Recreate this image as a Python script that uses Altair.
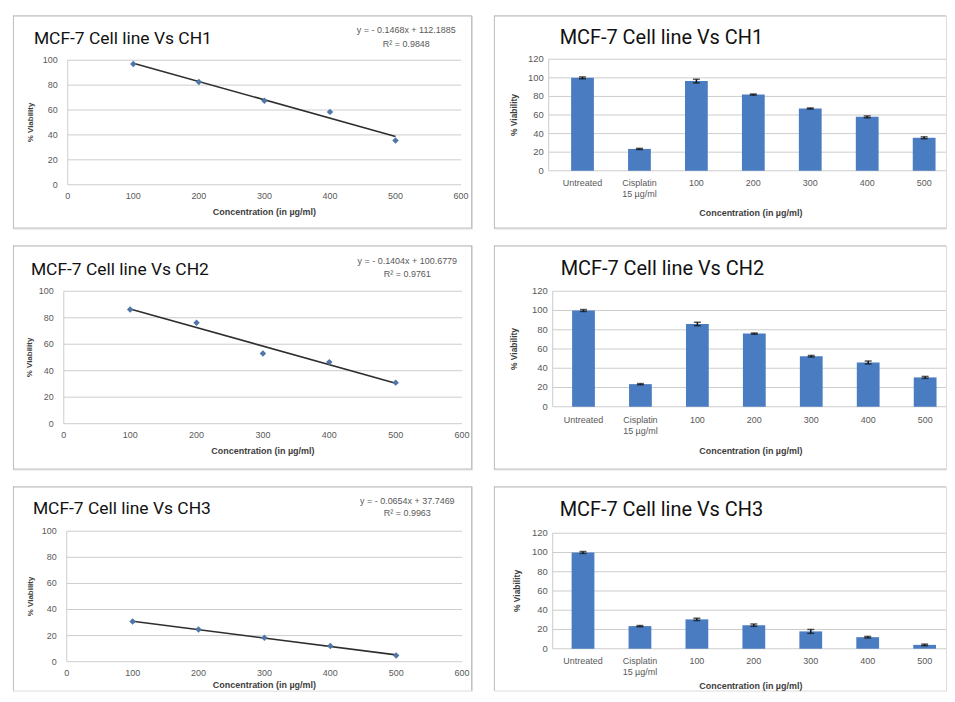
import altair as alt
import pandas as pd

# ---------------- data ----------------
conc = [100, 200, 300, 400, 500]
ch1_scatter = [97.0, 82.5, 67.5, 58.5, 35.5]
ch2_scatter = [86.2, 76.2, 53.0, 46.5, 31.0]
ch3_scatter = [30.8, 24.6, 18.4, 12.0, 4.8]

categories = ["Untreated", "Cisplatin 15 µg/ml", "100", "200", "300", "400", "500"]
category_labels = ["Untreated", "Cisplatin\n15 µg/ml", "100", "200", "300", "400", "500"]
ch1_bars = [100.0, 23.5, 96.5, 82.0, 67.0, 58.0, 35.5]
ch1_err = [1.0, 0.6, 2.0, 0.6, 0.6, 1.0, 1.0]
ch2_bars = [100.0, 23.5, 86.0, 76.0, 52.5, 46.0, 30.5]
ch2_err = [1.0, 0.6, 1.8, 0.6, 0.8, 1.5, 1.0]
ch3_bars = [100.0, 23.5, 30.5, 24.5, 18.0, 12.0, 4.0]
ch3_err = [1.0, 0.6, 1.2, 1.2, 2.0, 0.8, 0.8]

titles = ["MCF-7 Cell line Vs CH1", "MCF-7 Cell line Vs CH2", "MCF-7 Cell line Vs CH3"]
equations = ["y = - 0.1468x + 112.1885", "y = - 0.1404x + 100.6779", "y = - 0.0654x + 37.7469"]
r_squared = ["R² = 0.9848", "R² = 0.9761", "R² = 0.9963"]

scatter_x_ticks = [0, 100, 200, 300, 400, 500, 600]
scatter_y_ticks = [0, 20, 40, 60, 80, 100]
bar_y_ticks = [0, 20, 40, 60, 80, 100, 120]

x_title = "Concentration (in µg/ml)"
y_title = "% Viability"

# ---------------- style ----------------
FRAME = "#c0c0c0"
GRID = "#cdcdcd"
LABEL = "#595959"
AXTITLE = "#404040"
BAR = "#4a7cc1"
POINT = "#4f76a6"
LINE = "#2e2e2e"
FONT = "Liberation Sans"
TFONT = "Roboto"

ONE = alt.Data(values=[{"k": 1}])


def frame_layers(W, H, edges):
    rule = alt.Chart(ONE).mark_rule(color=FRAME, strokeWidth=1)
    out = []
    if "top" in edges:
        out.append(rule.encode(x=alt.value(0), x2=alt.value(W), y=alt.value(0.5)))
    if "bottom" in edges:
        out.append(rule.encode(x=alt.value(0), x2=alt.value(W), y=alt.value(H - 0.5)))
    if "left" in edges:
        out.append(rule.encode(x=alt.value(0.5), y=alt.value(0), y2=alt.value(H)))
    if "right" in edges:
        out.append(rule.encode(x=alt.value(W - 0.5), y=alt.value(0), y2=alt.value(H)))
    return out


def text_at(text, x, y, **kw):
    return alt.Chart(ONE).mark_text(text=text, **kw).encode(x=alt.value(x), y=alt.value(y))


def y_axis_layers(ticks, yscale, x0, x1, label_x, label_size):
    tdf = pd.DataFrame({"t": ticks})
    Y = alt.Y("t:Q", scale=yscale, axis=None)
    grid = alt.Chart(tdf).mark_rule(color=GRID, strokeWidth=1).encode(
        y=Y, x=alt.value(x0), x2=alt.value(x1))
    labels = alt.Chart(tdf).mark_text(align="right", baseline="middle", font=FONT,
                                      fontSize=label_size, color=LABEL).encode(
        y=Y, x=alt.value(label_x), text="t:Q")
    return [grid, labels]


def scatter_panel(i, ys, g):
    W, H, fl, ft, w, h = g["W"], g["H"], g["fl"], g["ft"], g["w"], g["h"]
    xs = alt.Scale(domain=[0, 600], range=[fl, fl + w], nice=False, zero=False)
    yscale = alt.Scale(domain=[0, 100], range=[ft + h, ft], nice=False)
    df = pd.DataFrame({"x": conc, "y": ys})
    X = alt.X("x:Q", scale=xs, axis=None)
    Y = alt.Y("y:Q", scale=yscale, axis=None)
    xt = pd.DataFrame({"t": scatter_x_ticks})
    layers = frame_layers(W, H, g["edges"])
    layers += y_axis_layers(scatter_y_ticks, yscale, fl, fl + w, fl - 10, 9)
    layers.append(alt.Chart(ONE).mark_rule(color=GRID).encode(
        x=alt.value(fl), y=alt.value(ft), y2=alt.value(ft + h)))
    layers.append(alt.Chart(xt).mark_text(baseline="top", font=FONT, fontSize=9, color=LABEL).encode(
        x=alt.X("t:Q", scale=xs, axis=None), y=alt.value(ft + h + 7), text="t:Q"))
    base = alt.Chart(df)
    layers.append(base.transform_regression("x", "y").mark_line(
        color=LINE, strokeWidth=1.6).encode(x=X, y=Y))
    layers.append(base.mark_point(shape="diamond", filled=True, size=42, color=POINT,
                                  opacity=1).encode(x=X, y=Y))
    layers.append(text_at(y_title, g["ytx"], ft + h / 2, angle=270, align="center",
                          baseline="middle", font=FONT, fontSize=8, fontWeight="bold",
                          color=AXTITLE))
    layers.append(text_at(x_title, fl + w / 2, g["xty"], align="center", baseline="middle",
                          font=FONT, fontSize=9, fontWeight="bold", color=AXTITLE))
    layers.append(text_at(titles[i], g["tx"], g["ty"], align="left", baseline="alphabetic",
                          font=TFONT, fontSize=17.5, color="#111111"))
    layers.append(text_at([equations[i], r_squared[i]], g["ex"], g["ey"], align="center",
                          baseline="top", font=FONT, fontSize=9, lineHeight=g["elh"],
                          color=LABEL))
    return alt.layer(*layers).properties(width=W, height=H)


def bar_panel(i, vals, errs, g):
    W, H, fl, ft, h = g["W"], g["H"], g["fl"], g["ft"], g["h"]
    xs = alt.Scale(domain=categories, range=[g["bx0"], g["bx0"] + 406],
                   paddingInner=0.6, paddingOuter=0.35)
    yscale = alt.Scale(domain=[0, 120], range=[ft + h, ft], nice=False)
    df = pd.DataFrame({"cat": categories, "v": vals, "e": errs})
    ldf = pd.DataFrame({"cat": categories, "lab": category_labels})
    X = alt.X("cat:N", sort=categories, scale=xs, axis=None)
    Y = alt.Y("v:Q", scale=yscale, axis=None)
    layers = frame_layers(W, H, g["edges"])
    layers += y_axis_layers(bar_y_ticks, yscale, fl, W, fl - 5, 9.5)
    layers.append(alt.Chart(ONE).mark_rule(color=GRID).encode(
        x=alt.value(fl), y=alt.value(ft), y2=alt.value(ft + h)))
    layers.append(alt.Chart(ldf).mark_text(baseline="top", font=FONT, fontSize=9, color=LABEL,
                                           lineBreak="\n", lineHeight=11).encode(
        x=X, y=alt.value(ft + h + g["lpad"]), text="lab:N"))
    base = alt.Chart(df)
    layers.append(base.mark_bar(color=BAR).encode(x=X, y=Y))
    layers.append(base.mark_errorbar(color="#111111", thickness=1.5,
                                     ticks=alt.MarkConfig(size=7, color="#111111")).encode(
        x=X, y=Y, yError="e:Q"))
    layers.append(text_at(y_title, g["ytx"], ft + h / 2, angle=270, align="center",
                          baseline="middle", font=FONT, fontSize=8.5, fontWeight="bold",
                          color=AXTITLE))
    layers.append(text_at(x_title, g["xtx"], g["xty"], align="center", baseline="middle",
                          font=FONT, fontSize=9, fontWeight="bold", color=AXTITLE))
    layers.append(text_at(titles[i], g["tx"], g["ty"], align="left", baseline="alphabetic",
                          font=TFONT, fontSize=20, color="#111111"))
    return alt.layer(*layers).properties(width=W, height=H)


# panel geometry in the panel's own pixels (frame = panel box)
S = [
    dict(W=461, H=214, fl=55, ft=45, w=395, h=125, tx=21, ty=29, ex=395, ey=11, elh=14,
         ytx=18, xty=197, edges=["top", "bottom", "left", "right"]),
    dict(W=461, H=225, fl=51, ft=46, w=400, h=133, tx=18, ty=30, ex=396, ey=12, elh=13,
         ytx=17, xty=206, edges=["top", "bottom", "left", "right"]),
    dict(W=461, H=205, fl=54, ft=45, w=397, h=131, tx=20, ty=28, ex=396, ey=11, elh=12,
         ytx=18, xty=199, edges=["top", "left", "right"]),
]
B = [
    dict(W=454, H=214, fl=55, ft=44, h=112, bx0=57.5, lpad=8, tx=66, ty=29, ytx=20,
         xtx=258, xty=198, edges=["top", "bottom", "left"]),
    dict(W=454, H=225, fl=59, ft=46, h=116, bx0=58.5, lpad=9, tx=67, ty=30, ytx=20,
         xtx=258, xty=206, edges=["top", "bottom", "left"]),
    dict(W=454, H=205, fl=59, ft=47, h=116, bx0=58, lpad=8, tx=66, ty=30, ytx=23,
         xtx=258, xty=200, edges=["top", "left"]),
]

scat = [ch1_scatter, ch2_scatter, ch3_scatter]
bvals = [ch1_bars, ch2_bars, ch3_bars]
berrs = [ch1_err, ch2_err, ch3_err]

rows = [alt.hconcat(scatter_panel(i, scat[i], S[i]), bar_panel(i, bvals[i], berrs[i], B[i]),
                    spacing=20) for i in range(3)]

chart = alt.vconcat(*rows, spacing=15).properties(
    padding={"left": 4, "top": 5, "right": 0, "bottom": 0}
).configure_view(stroke="transparent", strokeWidth=0).configure(background="white")

chart.save("out.html", embed_options={"renderer": "svg", "actions": False})
